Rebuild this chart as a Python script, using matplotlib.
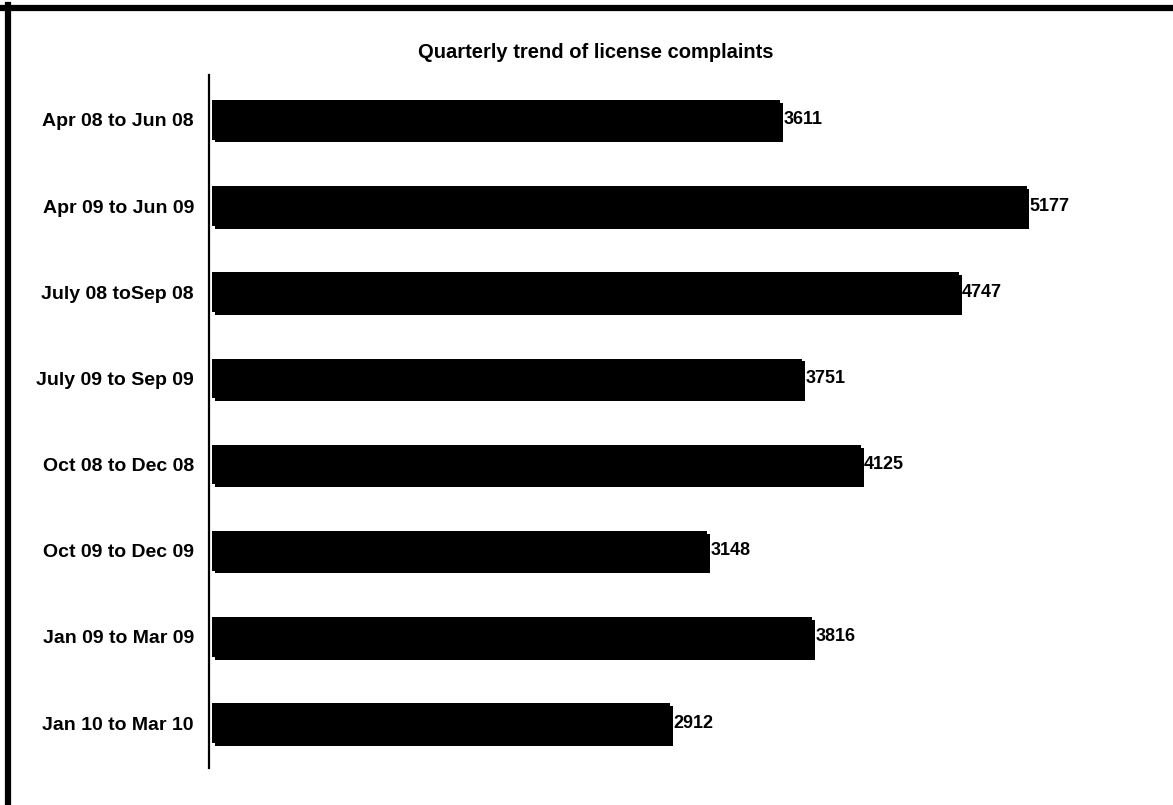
import matplotlib.pyplot as plt
import matplotlib.patheffects as pe
from matplotlib.lines import Line2D

plt.rcParams['font.family'] = ['Liberation Sans', 'DejaVu Sans']
plt.rcParams['font.weight'] = 'bold'

# --- DONNEES ---
quarters = ["Apr 08 to Jun 08", "Apr 09 to Jun 09", "July 08 toSep 08", "July 09 to Sep 09",
            "Oct 08 to Dec 08", "Oct 09 to Dec 09", "Jan 09 to Mar 09", "Jan 10 to Mar 10"]
complaints = [3611, 5177, 4747, 3751, 4125, 3148, 3816, 2912]

W, H = 1173, 805
fig = plt.figure(figsize=(W / 100, H / 100), dpi=100)
ax = fig.add_axes([212 / W, 1 - 768 / H, (1156 - 212) / W, (768 - 75) / H])

pos = list(range(len(quarters)))
bars = ax.barh(pos, complaints, height=0.46, color='black')
for b in bars:
    b.set_path_effects([pe.SimplePatchShadow(offset=(2, -2), shadow_rgbFace='black', alpha=1), pe.Normal()])

for y, v in zip(pos, complaints):
    ax.text(v + 20, y, str(v), va='center', ha='left', fontsize=13, fontweight='bold')

ax.set_ylim(len(quarters) - 0.48, -0.52)
ax.set_xlim(0, 6000)
ax.tick_params(axis='y', length=0, pad=11, labelsize=14)
ax.set_yticks(pos, quarters)
ax.set_xticks([])
for s in ['top', 'right', 'bottom']:
    ax.spines[s].set_visible(False)
ax.spines['left'].set_linewidth(1.6)
ax.spines['left'].set_position(('outward', 2))

fig.text(596 / W, 1 - 52 / H, "Quarterly trend of license complaints",
         ha='center', va='center', fontsize=14.5, fontweight='bold')

# cadre haut et gauche
fig.add_artist(Line2D([0, 1], [1 - 8 / H, 1 - 8 / H], color='black', linewidth=4.5, transform=fig.transFigure))
fig.add_artist(Line2D([8 / W, 8 / W], [0, 1 - 5 / H], color='black', linewidth=4.5, transform=fig.transFigure))

fig.savefig("out.png", dpi=100)
